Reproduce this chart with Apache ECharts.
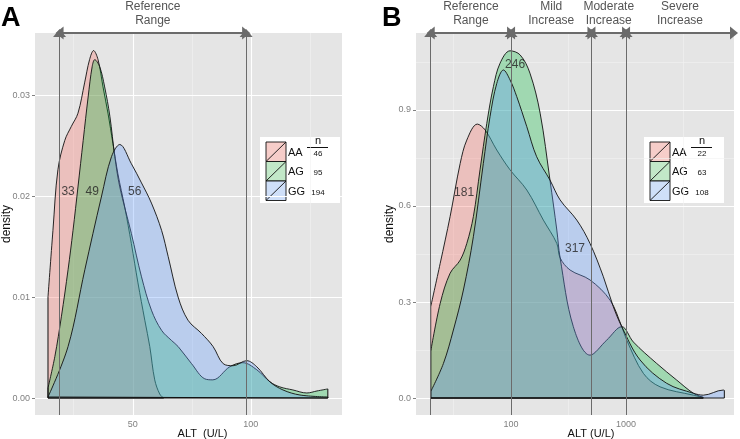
<!DOCTYPE html>
<html>
<head>
<meta charset="utf-8">
<script src="https://cdn.jsdelivr.net/npm/echarts@6/dist/echarts.min.js"></script>
<style>
html, body { margin: 0; padding: 0; background: #fff; }
#main { width: 740px; height: 439px; }
</style>
</head>
<body>
<div id="main"></div>
<script>
// genotypes and group sizes
var genotypes = ['AA', 'AG', 'GG'];
var nA = [46, 95, 194];
var nB = [22, 63, 108];

// panel A: density of ALT (linear axis), [ALT, density]
var aaA = [[14.1,0.0100],[16.2,0.0166],[18.3,0.0226],[21.2,0.0255],[24.0,0.0269],[26.8,0.0282],[29.6,0.0312],[31.7,0.0335],[33.4,0.0344],[35.3,0.0335],[37.4,0.0308],[39.5,0.0282],[41.6,0.0252],[43.7,0.0222],[46.6,0.0189],[49.4,0.0153],[52.2,0.0114],[55.1,0.0077],[57.2,0.0051],[59.3,0.0018],[61.4,0.0004],[63.0,0]];
var agA = [[14.1,0.0010],[17.0,0.0041],[19.8,0.0081],[22.6,0.0127],[24.7,0.0166],[26.8,0.0209],[29.0,0.0255],[31.1,0.0298],[32.8,0.0328],[33.9,0.0335],[36.0,0.0328],[38.1,0.0308],[40.3,0.0279],[42.4,0.0239],[44.5,0.0209],[49.4,0.0163],[53.7,0.0120],[57.9,0.0087],[62.2,0.0067],[66.4,0.0057],[69.2,0.0051],[74.9,0.0034],[80.5,0.0019],[83.9,0.0018],[91.1,0.0031],[96.6,0.0035],[102.5,0.0028],[108.1,0.0016],[112.3,0.0011],[117.8,0.0008],[123.7,0.0005],[128.0,0.0007],[132.6,0.0009]];
var ggA = [[14.1,0.0001],[22.6,0.0051],[29.7,0.0127],[36.7,0.0199],[41.0,0.0239],[44.5,0.0251],[49.4,0.0232],[53.7,0.0213],[57.9,0.0193],[62.2,0.0166],[65.0,0.0140],[69.2,0.0100],[73.4,0.0077],[79.1,0.0064],[84.0,0.0051],[88.3,0.0034],[92.5,0.0032],[98.2,0.0037],[102.5,0.0031],[108.1,0.0016],[113.6,0.0008],[120.8,0.0003],[132.6,0.0001]];

// panel B: density of ALT (log axis)
var aaB = [[20.0,0.285],[24.2,0.421],[29.5,0.567],[36.1,0.733],[41.2,0.806],[50.9,0.856],[59.4,0.838],[75.1,0.775],[98,0.713],[137,0.65],[191,0.556],[250,0.483],[267,0.438],[326,0.40],[486,0.369],[726,0.306],[918,0.223],[1014,0.181],[1416,0.077],[1977,0.035],[3850,0.009],[4700,0.002]];
var agB = [[20.0,0.145],[24.2,0.296],[29.5,0.39],[36.1,0.431],[41.2,0.483],[47,0.567],[53.7,0.713],[61.5,0.858],[70.2,0.973],[80.2,1.046],[98,1.085],[120,1.072],[146,1.015],[179,0.89],[218,0.681],[250,0.525],[267,0.438],[348,0.223],[486,0.134],[679,0.181],[918,0.223],[1159,0.175],[1849,0.108],[2761,0.056],[3850,0.015],[4700,0.002]];
var ggB = [[20.0,0.02],[25.8,0.108],[31.5,0.2125],[38.5,0.3375],[47,0.504],[57.4,0.733],[65.6,0.879],[75.1,0.983],[85.8,1.025],[98,0.994],[112,0.942],[137,0.848],[167,0.754],[218,0.681],[267,0.619],[373,0.556],[486,0.483],[635,0.379],[776,0.285],[918,0.223],[1324,0.119],[2258,0.046],[3850,0.015],[4700,0.009],[7017,0.025],[7160,0.024]];

// numbers written on the curves
var labA = [[22.6,0.0204,'33'],[32.8,0.0204,'49'],[50.8,0.0204,'56']];
var labB = [[39.0,0.643,'181'],[108.3,1.043,'246'],[360,0.466,'317']];

// axis ticks and gridlines
var xTicksA = [50, 100], xMinorA = [25, 75, 125];
var yTicksA = [0, 0.01, 0.02, 0.03], yMinorA = [0.005, 0.015, 0.025, 0.035];
var xTicksB = [100, 1000], xMinorB = [31.6, 316, 3162];
var yTicksB = [0, 0.3, 0.6, 0.9], yMinorB = [0.15, 0.45, 0.75, 1.05];

// reference bands
var refA = [19, 98];
var refNamesA = ['Reference\nRange'];
var refB = [20, 100, 500, 1000, 8690];
var refNamesB = ['Reference\nRange', 'Mild\nIncrease', 'Moderate\nIncrease', 'Severe\nIncrease'];

var xRangeA = [8.6, 138.6], yRangeA = [-0.00168, 0.03614];
var xRangeB = [14.9, 8690], yRangeB = [-0.053, 1.1406];

var fills = ['rgba(248,118,109,0.33)', 'rgba(0,186,56,0.30)', 'rgba(97,156,255,0.32)'];
var keyFills = ['#f6cdc9', '#c2e8c8', '#cfdff8'];
var FONT = 'Liberation Sans, Arial, sans-serif';

var chart = echarts.init(document.getElementById('main'));

function gridSeries(i, xs, ys, color, width) {
  return {
    type: 'line', xAxisIndex: i, yAxisIndex: i, data: [], silent: true,
    markLine: {
      silent: true, symbol: 'none', animation: false, z: 1,
      label: { show: false },
      lineStyle: { color: color, width: width, type: 'solid' },
      data: xs.map(function (v) { return { xAxis: v }; })
        .concat(ys.map(function (v) { return { yAxis: v }; }))
    }
  };
}

function densitySeries(i, data, k) {
  return {
    type: 'line', name: genotypes[k], xAxisIndex: i, yAxisIndex: i,
    data: data, smooth: 0.35, symbol: 'none', z: 3 + k, silent: true,
    lineStyle: { color: '#111', width: 0.9 },
    areaStyle: { color: fills[k], opacity: 1 }
  };
}

function outlineSeries(i, data, k) {
  var f = data[0], l = data[data.length - 1];
  return {
    type: 'line', xAxisIndex: i, yAxisIndex: i, symbol: 'none', z: 6, silent: true,
    data: [[f[0], f[1]], [f[0], 0], [l[0], 0], [l[0], l[1]]],
    lineStyle: { color: '#111', width: 1 }
  };
}

function refSeries(i, edges, names, yTop) {
  var segs = [];
  for (var j = 0; j < names.length; j++) {
    segs.push([{ coord: [edges[j], yTop], name: names[j] }, { coord: [edges[j + 1], yTop] }]);
  }
  var verts = edges.slice(0, edges.length - (i === 1 ? 1 : 0)).map(function (v) {
    return { xAxis: v, symbol: 'none', label: { show: false }, lineStyle: { color: '#6b6b6b', width: 1 } };
  });
  return {
    type: 'line', xAxisIndex: i, yAxisIndex: i, data: [], silent: true,
    markLine: {
      silent: true, animation: false, z: 8,
      symbol: ['triangle', 'triangle'], symbolSize: [13, 8],
      lineStyle: { color: '#6b6b6b', width: 2, type: 'solid' },
      label: {
        show: true, position: 'insideMiddleTop', distance: 5, formatter: '{b}',
        color: '#555', fontSize: 12, lineHeight: 14, fontFamily: FONT
      },
      data: segs.concat(verts)
    }
  };
}

function labelSeries(i, labs) {
  return {
    type: 'scatter', xAxisIndex: i, yAxisIndex: i, symbolSize: 0, z: 9, silent: true,
    data: labs.map(function (d) { return { value: [d[0], d[1]], name: d[2] }; }),
    label: { show: true, position: 'inside', formatter: '{b}', color: '#222', fontSize: 12, fontFamily: FONT }
  };
}

function legendGraphic(x0, nVals) {
  var kids = [{ type: 'rect', shape: { x: x0, y: 137, width: 80, height: 66 }, style: { fill: '#fff' } }];
  for (var k = 0; k < 3; k++) {
    var y = 142 + k * 19.5;
    kids.push({ type: 'rect', shape: { x: x0 + 6, y: y, width: 20, height: 19.5 }, style: { fill: keyFills[k], stroke: '#111', lineWidth: 0.9 } });
    kids.push({ type: 'line', shape: { x1: x0 + 6, y1: y + 19.5, x2: x0 + 26, y2: y }, style: { stroke: '#111', lineWidth: 0.9 } });
    kids.push({ type: 'text', x: x0 + 28, y: y + 10.5, style: { text: genotypes[k], font: '11px ' + FONT, fill: '#111', textVerticalAlign: 'middle' } });
    kids.push({ type: 'text', x: x0 + 58, y: y + 11.5, style: { text: String(nVals[k]), font: '8px ' + FONT, fill: '#111', textAlign: 'center', textVerticalAlign: 'middle' } });
  }
  kids.push({ type: 'text', x: x0 + 58, y: 141, style: { text: 'n', font: '11px ' + FONT, fill: '#111', textAlign: 'center', textVerticalAlign: 'middle' } });
  kids.push({ type: 'line', shape: { x1: x0 + 47, y1: 147.5, x2: x0 + 68, y2: 147.5 }, style: { stroke: '#111', lineWidth: 1 } });
  return { type: 'group', z: 100, children: kids };
}

function yAxisDef(i, range, ticks, digits, gap) {
  return {
    gridIndex: i, type: 'value', min: range[0], max: range[1],
    name: 'density', nameLocation: 'middle', nameGap: gap, nameMoveOverlap: false,
    nameTextStyle: { color: '#111', fontSize: 12, fontFamily: FONT },
    splitLine: { show: false }, axisLine: { show: false },
    axisTick: { show: true, length: 3, customValues: ticks, lineStyle: { color: '#808080' } },
    axisLabel: {
      customValues: ticks, color: '#808080', fontSize: 9, margin: 5, fontFamily: FONT,
      formatter: function (v) { return v.toFixed(digits); }
    }
  };
}

var option = {
  animation: false,
  backgroundColor: '#fff',
  grid: [
    { left: 35, top: 33, width: 307, height: 382, show: true, backgroundColor: '#e5e5e5', borderWidth: 0, outerBoundsMode: 'none', containLabel: false },
    { left: 416, top: 33, width: 318, height: 382, show: true, backgroundColor: '#e5e5e5', borderWidth: 0, outerBoundsMode: 'none', containLabel: false }
  ],
  xAxis: [
    {
      gridIndex: 0, type: 'value', min: xRangeA[0], max: xRangeA[1],
      name: 'ALT  (U/L)', nameLocation: 'middle', nameGap: 13, nameMoveOverlap: false,
      nameTextStyle: { color: '#111', fontSize: 11, fontFamily: FONT, padding: [0, 0, 0, 28] },
      splitLine: { show: false }, axisLine: { show: false },
      axisTick: { show: true, length: 3, customValues: xTicksA, lineStyle: { color: '#808080' } },
      axisLabel: { customValues: xTicksA, color: '#808080', fontSize: 9, margin: 5, fontFamily: FONT }
    },
    {
      gridIndex: 1, type: 'log', logBase: 10, min: xRangeB[0], max: xRangeB[1],
      name: 'ALT (U/L)', nameLocation: 'middle', nameGap: 13, nameMoveOverlap: false,
      nameTextStyle: { color: '#111', fontSize: 11, fontFamily: FONT, padding: [0, 0, 0, 32] },
      splitLine: { show: false }, axisLine: { show: false },
      axisTick: { show: true, length: 3, lineStyle: { color: '#808080' } },
      axisLabel: { color: '#808080', fontSize: 9, margin: 5, fontFamily: FONT,
        showMinLabel: false, showMaxLabel: false,
        formatter: function (v) { return String(Math.round(v)); } }
    }
  ],
  yAxis: [
    yAxisDef(0, yRangeA, yTicksA, 2, 22),
    yAxisDef(1, yRangeB, yTicksB, 1, 20)
  ],
  graphic: [
    { type: 'text', left: 1, top: 5, style: { text: 'A', font: 'bold 27px ' + FONT, fill: '#000' } },
    { type: 'text', left: 382, top: 5, style: { text: 'B', font: 'bold 27px ' + FONT, fill: '#000' } },
    legendGraphic(260, nA),
    legendGraphic(644, nB)
  ],
  series: [
    gridSeries(0, xMinorA, yMinorA, '#f2f2f2', 0.6),
    gridSeries(0, xTicksA, yTicksA, '#ffffff', 1.1),
    gridSeries(1, xMinorB, yMinorB, '#f2f2f2', 0.6),
    gridSeries(1, xTicksB, yTicksB, '#ffffff', 1.1),
    densitySeries(0, aaA, 0), densitySeries(0, agA, 1), densitySeries(0, ggA, 2),
    outlineSeries(0, aaA, 0), outlineSeries(0, agA, 1), outlineSeries(0, ggA, 2),
    densitySeries(1, aaB, 0), densitySeries(1, agB, 1), densitySeries(1, ggB, 2),
    outlineSeries(1, aaB, 0), outlineSeries(1, agB, 1), outlineSeries(1, ggB, 2),
    refSeries(0, refA, refNamesA, yRangeA[1]),
    refSeries(1, refB, refNamesB, yRangeB[1]),
    labelSeries(0, labA),
    labelSeries(1, labB)
  ]
};

chart.setOption(option);
</script>
</body>
</html>
